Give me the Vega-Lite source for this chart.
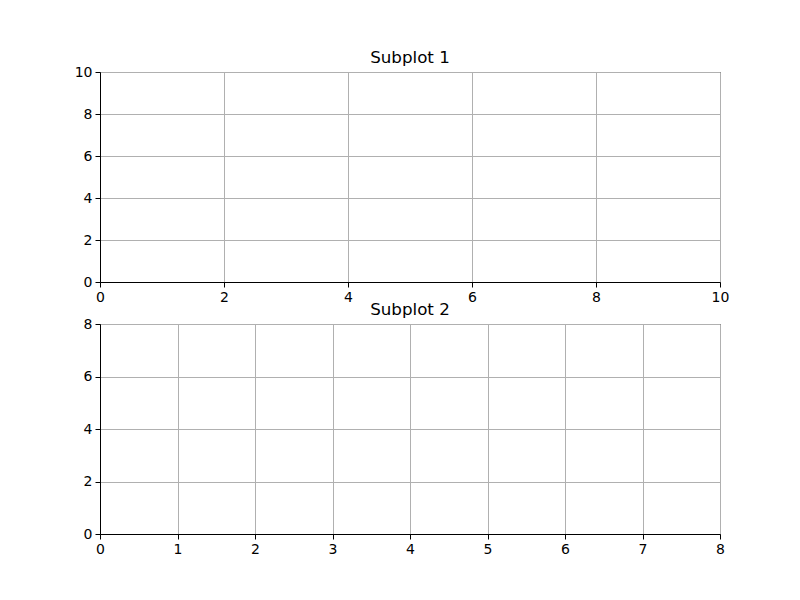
{
  "$schema": "https://vega.github.io/schema/vega-lite/v6.json",
  "padding": {"left": 73, "top": 49, "right": 0, "bottom": 0},
  "background": "white",
  "spacing": 42,
  "bounds": "flush",
  "config": {
    "font": "DejaVu Sans",
    "view": {"stroke": "black", "strokeWidth": 1},
    "title": {"fontSize": 16.7, "fontWeight": "normal", "anchor": "middle", "offset": -2, "color": "black", "font": "DejaVu Sans"},
    "axis": {
      "domainColor": "black", "domainWidth": 1,
      "tickColor": "black", "tickSize": 5, "tickWidth": 1,
      "labelFontSize": 14, "labelColor": "black", "labelPadding": 3, "labelFont": "DejaVu Sans",
      "labelFlush": false, "labelOverlap": false, "labelBound": false,
      "grid": true, "gridColor": "#b0b0b0", "gridWidth": 1,
      "title": null
    }
  },
  "vconcat": [
    {
      "title": "Subplot 1",
      "width": 620,
      "height": 210,
      "data": {"values": []},
      "mark": {"type": "point", "opacity": 0},
      "encoding": {
        "x": {"field": "x", "type": "quantitative", "scale": {"domain": [0, 10], "nice": false, "zero": false}, "axis": {"values": [0, 2, 4, 6, 8, 10], "format": "d"}},
        "y": {"field": "y", "type": "quantitative", "scale": {"domain": [0, 10], "nice": false, "zero": false}, "axis": {"values": [0, 2, 4, 6, 8, 10], "format": "d"}}
      }
    },
    {
      "title": "Subplot 2",
      "width": 620,
      "height": 210,
      "data": {"values": []},
      "mark": {"type": "point", "opacity": 0},
      "encoding": {
        "x": {"field": "x", "type": "quantitative", "scale": {"domain": [0, 8], "nice": false, "zero": false}, "axis": {"values": [0, 1, 2, 3, 4, 5, 6, 7, 8], "format": "d"}},
        "y": {"field": "y", "type": "quantitative", "scale": {"domain": [0, 8], "nice": false, "zero": false}, "axis": {"values": [0, 2, 4, 6, 8], "format": "d"}}
      }
    }
  ]
}
